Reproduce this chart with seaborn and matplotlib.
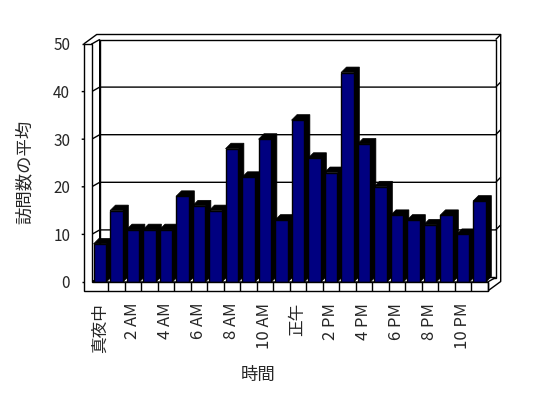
import matplotlib
matplotlib.use("Agg")
import matplotlib.pyplot as plt
from matplotlib.patches import Polygon
import pandas as pd
import seaborn as sns

# data: average visits per hour of day
hours = list(range(24))
visits = [8, 15, 11, 11, 11, 18, 16, 15, 28, 22, 30, 13,
          34, 26, 23, 44, 29, 20, 14, 13, 12, 14, 10, 17]
tick_hours = [0, 2, 4, 6, 8, 10, 12, 14, 16, 18, 20, 22]
tick_labels = ["真夜中", "2 AM", "4 AM", "6 AM", "8 AM", "10 AM",
               "正午", "2 PM", "4 PM", "6 PM", "8 PM", "10 PM"]
y_ticks = [0, 10, 20, 30, 40, 50]

sns.set_style("white")
plt.rcParams['font.family'] = ['Noto Sans CJK JP', 'DejaVu Sans']

W, H = 548, 398
fig = plt.figure(figsize=(W / 100, H / 100), dpi=100)
fig.patch.set_facecolor("white")
ax = fig.add_axes([91.7 / W, 116 / H, 396 / W, 238 / H])

df = pd.DataFrame({"hour": hours, "visits": visits})
sns.barplot(data=df, x="hour", y="visits", color="#000080", saturation=1,
            edgecolor="black", linewidth=1, width=0.78, ax=ax, zorder=4)

ax.set_xlim(-0.5, 23.5)
ax.set_ylim(0, 50)
for s in ax.spines.values():
    s.set_visible(False)
ax.patch.set_visible(False)

# pixel -> data unit helpers
x_px = ax.transData.transform((1, 0))[0] - ax.transData.transform((0, 0))[0]
y_px = ax.transData.transform((0, 1))[1] - ax.transData.transform((0, 0))[1]


def px(dx, dy):
    return dx / x_px, dy / y_px


L, R, TOP = -0.5, 23.5, 50
wl, _ = px(8, 0)          # left wall thickness
_, fl = px(0, 9)          # floor thickness
Dx, Dy = px(8, 4.5)       # back wall depth
D2x, D2y = px(13, 9.5)    # outer box depth
bdx, bdy = px(5.5, 5.5)   # bar depth
tk, _ = px(2, 0)

kw = dict(closed=True, facecolor="white", edgecolor="black", lw=1, clip_on=False)


def line(xs, ys, z=1.5):
    ax.plot(xs, ys, color="black", lw=1, clip_on=False, zorder=z,
            solid_capstyle="butt")


# back wall, left wall inner side, floor top
ax.add_patch(Polygon([(L + Dx, Dy), (R + Dx, Dy), (R + Dx, TOP + Dy), (L + Dx, TOP + Dy)],
                     zorder=0.5, **kw))
ax.add_patch(Polygon([(L, 0), (L + Dx, Dy), (L + Dx, TOP + Dy), (L, TOP)], zorder=0.6, **kw))
ax.add_patch(Polygon([(L, 0), (R, 0), (R + Dx, Dy), (L + Dx, Dy)], zorder=0.7, **kw))

# gridlines on the walls
for v in y_ticks[1:-1]:
    line([L - wl - tk, L, L + Dx, R + Dx, R + D2x],
         [v, v, v + Dy, v + Dy, v + D2y])

# outer box edges
line([L - wl, L - wl + D2x, R + D2x, R + D2x, R],
     [TOP, TOP + D2y, TOP + D2y, -fl + D2y, -fl], z=1.6)
line([R + Dx, R + D2x], [TOP + Dy, TOP + D2y], z=1.6)
line([L - wl - tk, L - wl], [TOP, TOP], z=1.6)
line([L - wl - tk, L - wl], [0, 0], z=1.6)

# front face of left wall and floor (one L-shaped slab)
ax.add_patch(Polygon([(L - wl, -fl), (R, -fl), (R, 0), (L, 0), (L, TOP), (L - wl, TOP)],
                     zorder=5, **kw))
for k in range(1, 25):
    line([L + k, L + k], [-fl, 0], z=5.5)

# 3D top/side of each bar
for p in list(ax.patches):
    if p.get_zorder() != 4:
        continue
    x0, w, h = p.get_x(), p.get_width(), p.get_height()
    ax.add_patch(Polygon([(x0, h), (x0 + bdx, h + bdy), (x0 + w + bdx, h + bdy),
                          (x0 + w + bdx, bdy), (x0 + w, 0), (x0 + w, h)],
                         closed=True, facecolor="black", edgecolor="black",
                         lw=0.5, zorder=3, clip_on=False))

ax.set_yticks(y_ticks)
ax.set_yticklabels([str(t) for t in y_ticks], fontsize=11)
ax.set_xticks(tick_hours)
ax.set_xticklabels(tick_labels, rotation=90, fontsize=12)
ax.tick_params(axis="y", length=0, pad=15.5)
ax.tick_params(axis="x", length=0, pad=15)

ax.set_xlabel("時間", fontsize=12.5, va="center")
ax.xaxis.set_label_coords((258 - 91.7) / 396, (282 - 375) / 238)
ax.set_ylabel("訪問数の平均", fontsize=12.5, va="center")
ax.yaxis.set_label_coords((25 - 91.7) / 396, (282 - 172) / 238)

fig.savefig("out.png", dpi=100)
